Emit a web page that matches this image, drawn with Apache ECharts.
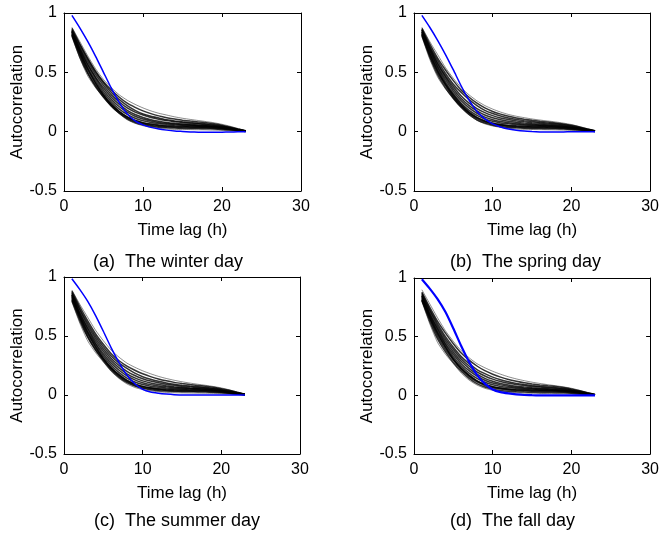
<!DOCTYPE html>
<html>
<head>
<meta charset="utf-8">
<script src="https://cdn.jsdelivr.net/npm/echarts@6/dist/echarts.min.js"></script>
<style>
html, body { margin: 0; padding: 0; background: #fff; }
#main { width: 662px; height: 535px; }
</style>
</head>
<body>
<div id="main"></div>
<script>
// lag in hours
var lags = [1,2,3,4,5,6,7,8,9,10,11,12,13,14,15,16,17,18,19,20,21,22,23];

// blue curve of each season
var blueWinter = [0.98,0.875,0.76,0.635,0.50,0.365,0.245,0.15,0.09,0.057,0.036,0.022,0.013,0.006,0.002,-0.002,-0.004,-0.005,-0.005,-0.004,-0.003,-0.001,0];
var blueSpring = [0.98,0.88,0.77,0.65,0.52,0.385,0.265,0.17,0.108,0.065,0.04,0.022,0.012,0.005,0.001,-0.002,-0.003,-0.003,-0.002,-0.001,0,0,0];
var blueSummer = [0.985,0.895,0.795,0.675,0.54,0.40,0.275,0.17,0.095,0.048,0.025,0.015,0.008,0.003,0.001,0,0,0,0,0,0,0,0];
var blueFall = [0.99,0.91,0.82,0.71,0.57,0.42,0.285,0.175,0.10,0.05,0.027,0.016,0.008,0.003,0.001,0,0,0,0,0,0,0,0];

// black curves
var blackWinter = [
  [0.88,0.76,0.64,0.53,0.44,0.37,0.31,0.265,0.23,0.20,0.175,0.155,0.14,0.125,0.113,0.103,0.094,0.085,0.075,0.062,0.046,0.027,0.008],
  [0.87,0.74,0.62,0.51,0.42,0.35,0.29,0.24,0.205,0.175,0.152,0.133,0.118,0.106,0.097,0.089,0.082,0.075,0.066,0.055,0.04,0.023,0.007],
  [0.86,0.73,0.61,0.50,0.41,0.33,0.27,0.22,0.18,0.15,0.13,0.115,0.10,0.09,0.083,0.077,0.071,0.065,0.058,0.048,0.035,0.02,0.006],
  [0.85,0.71,0.59,0.48,0.39,0.31,0.25,0.20,0.165,0.14,0.12,0.105,0.093,0.084,0.077,0.071,0.066,0.06,0.053,0.044,0.032,0.018,0.005],
  [0.85,0.70,0.57,0.46,0.37,0.29,0.23,0.18,0.145,0.12,0.10,0.087,0.077,0.07,0.065,0.06,0.056,0.052,0.047,0.039,0.029,0.016,0.004],
  [0.84,0.69,0.56,0.45,0.35,0.27,0.21,0.165,0.13,0.107,0.09,0.078,0.07,0.064,0.06,0.056,0.053,0.049,0.044,0.037,0.027,0.015,0.004],
  [0.84,0.68,0.54,0.43,0.33,0.25,0.19,0.145,0.113,0.092,0.078,0.069,0.063,0.058,0.054,0.051,0.048,0.045,0.041,0.034,0.025,0.014,0.004],
  [0.83,0.67,0.53,0.41,0.31,0.23,0.17,0.125,0.095,0.076,0.064,0.057,0.052,0.049,0.047,0.045,0.043,0.041,0.037,0.031,0.023,0.013,0.003],
  [0.82,0.66,0.52,0.41,0.31,0.23,0.17,0.125,0.094,0.074,0.06,0.051,0.046,0.043,0.041,0.04,0.039,0.037,0.034,0.028,0.021,0.012,0.003],
  [0.82,0.65,0.50,0.39,0.30,0.22,0.16,0.115,0.085,0.066,0.053,0.045,0.04,0.037,0.035,0.034,0.033,0.032,0.029,0.024,0.018,0.01,0.002],
  [0.81,0.63,0.49,0.38,0.29,0.215,0.155,0.108,0.077,0.058,0.046,0.038,0.033,0.03,0.028,0.027,0.026,0.025,0.023,0.019,0.014,0.008,0.002],
  [0.80,0.62,0.47,0.37,0.29,0.21,0.15,0.10,0.07,0.05,0.037,0.028,0.022,0.019,0.018,0.017,0.016,0.015,0.013,0.011,0.008,0.004,0.001]
];
var blackSpring = [
  [0.88,0.76,0.65,0.54,0.45,0.37,0.31,0.26,0.22,0.19,0.165,0.145,0.13,0.118,0.107,0.098,0.09,0.082,0.072,0.06,0.044,0.026,0.008],
  [0.87,0.74,0.62,0.52,0.43,0.35,0.29,0.24,0.20,0.17,0.148,0.13,0.116,0.105,0.096,0.088,0.081,0.074,0.065,0.054,0.04,0.023,0.007],
  [0.86,0.72,0.60,0.49,0.40,0.33,0.27,0.22,0.18,0.153,0.132,0.116,0.103,0.093,0.085,0.078,0.072,0.066,0.058,0.048,0.035,0.02,0.006],
  [0.86,0.71,0.58,0.47,0.38,0.30,0.24,0.195,0.16,0.135,0.116,0.102,0.091,0.083,0.076,0.07,0.065,0.059,0.052,0.043,0.031,0.018,0.005],
  [0.85,0.70,0.57,0.46,0.36,0.28,0.22,0.175,0.14,0.117,0.10,0.088,0.079,0.072,0.066,0.061,0.057,0.052,0.046,0.038,0.028,0.016,0.004],
  [0.84,0.69,0.55,0.44,0.34,0.26,0.20,0.155,0.123,0.101,0.086,0.076,0.068,0.063,0.059,0.055,0.052,0.048,0.043,0.036,0.026,0.015,0.004],
  [0.84,0.68,0.54,0.42,0.32,0.24,0.18,0.137,0.107,0.087,0.074,0.066,0.06,0.056,0.053,0.05,0.047,0.044,0.04,0.033,0.024,0.014,0.004],
  [0.83,0.66,0.52,0.40,0.30,0.22,0.16,0.118,0.089,0.071,0.06,0.053,0.049,0.047,0.045,0.043,0.042,0.04,0.036,0.03,0.022,0.012,0.003],
  [0.82,0.66,0.51,0.40,0.31,0.23,0.165,0.12,0.09,0.071,0.058,0.05,0.045,0.042,0.04,0.039,0.038,0.036,0.033,0.027,0.02,0.011,0.003],
  [0.82,0.64,0.50,0.39,0.29,0.215,0.155,0.11,0.081,0.063,0.051,0.044,0.039,0.036,0.034,0.033,0.032,0.031,0.028,0.023,0.017,0.01,0.002],
  [0.81,0.63,0.48,0.37,0.28,0.205,0.145,0.10,0.072,0.054,0.043,0.036,0.032,0.029,0.027,0.026,0.025,0.024,0.022,0.018,0.013,0.007,0.002],
  [0.80,0.61,0.46,0.36,0.28,0.20,0.14,0.095,0.066,0.048,0.036,0.028,0.022,0.019,0.018,0.017,0.016,0.015,0.013,0.011,0.008,0.004,0.001]
];
var blackSummer = [
  [0.89,0.77,0.66,0.55,0.46,0.38,0.32,0.27,0.235,0.205,0.18,0.158,0.14,0.125,0.112,0.101,0.091,0.082,0.072,0.06,0.044,0.026,0.008],
  [0.88,0.75,0.63,0.52,0.43,0.35,0.29,0.245,0.21,0.18,0.156,0.136,0.12,0.107,0.097,0.088,0.081,0.074,0.065,0.054,0.04,0.023,0.007],
  [0.87,0.73,0.61,0.50,0.41,0.33,0.27,0.225,0.185,0.155,0.133,0.116,0.102,0.091,0.083,0.076,0.07,0.064,0.057,0.047,0.034,0.02,0.006],
  [0.86,0.72,0.59,0.48,0.39,0.31,0.25,0.20,0.165,0.138,0.118,0.103,0.091,0.082,0.075,0.069,0.064,0.059,0.052,0.043,0.031,0.018,0.005],
  [0.85,0.70,0.57,0.46,0.37,0.29,0.23,0.18,0.145,0.12,0.102,0.089,0.079,0.071,0.065,0.06,0.056,0.052,0.046,0.038,0.028,0.016,0.004],
  [0.85,0.69,0.56,0.44,0.35,0.27,0.21,0.163,0.128,0.104,0.088,0.077,0.069,0.063,0.059,0.055,0.052,0.048,0.043,0.036,0.026,0.015,0.004],
  [0.84,0.68,0.54,0.43,0.33,0.25,0.19,0.143,0.11,0.089,0.075,0.066,0.06,0.056,0.053,0.05,0.047,0.044,0.04,0.033,0.024,0.014,0.004],
  [0.83,0.67,0.53,0.41,0.31,0.23,0.17,0.123,0.092,0.073,0.061,0.054,0.05,0.047,0.045,0.043,0.042,0.04,0.036,0.03,0.022,0.012,0.003],
  [0.82,0.66,0.52,0.41,0.31,0.23,0.17,0.123,0.092,0.072,0.059,0.05,0.045,0.042,0.04,0.039,0.038,0.036,0.033,0.027,0.02,0.011,0.003],
  [0.81,0.65,0.50,0.39,0.30,0.22,0.16,0.113,0.083,0.064,0.052,0.044,0.039,0.036,0.034,0.033,0.032,0.031,0.028,0.023,0.017,0.01,0.002],
  [0.80,0.63,0.49,0.38,0.29,0.21,0.15,0.105,0.075,0.056,0.045,0.037,0.033,0.03,0.028,0.027,0.026,0.025,0.023,0.019,0.014,0.008,0.002],
  [0.79,0.61,0.46,0.36,0.28,0.20,0.14,0.094,0.064,0.046,0.035,0.027,0.022,0.019,0.018,0.017,0.016,0.015,0.013,0.011,0.008,0.004,0.001]
];
var blackFall = [
  [0.90,0.78,0.66,0.55,0.46,0.38,0.32,0.27,0.235,0.205,0.18,0.158,0.14,0.125,0.112,0.101,0.091,0.082,0.072,0.06,0.044,0.026,0.008],
  [0.88,0.75,0.63,0.53,0.44,0.36,0.30,0.25,0.21,0.18,0.155,0.135,0.12,0.107,0.097,0.089,0.082,0.075,0.066,0.055,0.04,0.023,0.007],
  [0.87,0.73,0.61,0.50,0.41,0.33,0.27,0.22,0.185,0.155,0.133,0.116,0.102,0.092,0.084,0.077,0.071,0.065,0.058,0.048,0.035,0.02,0.006],
  [0.86,0.72,0.59,0.48,0.39,0.31,0.25,0.20,0.165,0.138,0.118,0.103,0.092,0.083,0.076,0.07,0.065,0.06,0.053,0.044,0.032,0.018,0.005],
  [0.85,0.70,0.57,0.46,0.37,0.29,0.23,0.18,0.145,0.12,0.101,0.088,0.078,0.071,0.065,0.06,0.056,0.052,0.047,0.039,0.029,0.016,0.004],
  [0.85,0.69,0.56,0.44,0.35,0.27,0.21,0.164,0.129,0.105,0.089,0.077,0.069,0.063,0.059,0.055,0.052,0.048,0.043,0.036,0.026,0.015,0.004],
  [0.84,0.68,0.54,0.43,0.33,0.25,0.19,0.144,0.111,0.09,0.076,0.067,0.061,0.057,0.053,0.05,0.047,0.044,0.04,0.033,0.024,0.014,0.004],
  [0.83,0.67,0.53,0.41,0.31,0.23,0.17,0.124,0.093,0.074,0.062,0.055,0.051,0.048,0.046,0.044,0.042,0.04,0.036,0.03,0.022,0.012,0.003],
  [0.82,0.66,0.52,0.41,0.31,0.23,0.17,0.124,0.093,0.073,0.06,0.051,0.046,0.043,0.041,0.04,0.039,0.037,0.034,0.028,0.021,0.012,0.003],
  [0.81,0.65,0.50,0.39,0.30,0.22,0.16,0.114,0.084,0.065,0.053,0.045,0.04,0.037,0.035,0.034,0.033,0.032,0.029,0.024,0.018,0.01,0.002],
  [0.81,0.63,0.48,0.37,0.28,0.205,0.145,0.10,0.071,0.053,0.042,0.035,0.031,0.028,0.026,0.025,0.024,0.023,0.021,0.017,0.012,0.007,0.002],
  [0.80,0.61,0.45,0.35,0.27,0.19,0.13,0.088,0.06,0.043,0.032,0.025,0.021,0.018,0.017,0.016,0.015,0.014,0.013,0.011,0.008,0.004,0.001]
];

var captions = ['(a)  The winter day', '(b)  The spring day', '(c)  The summer day', '(d)  The fall day'];
var xMin = 0, xMax = 30, xStep = 10;
var yMin = -0.5, yMax = 1, yStep = 0.5;

var panels = [
  { blue: blueWinter, black: blackWinter, grid: { left: 64, top: 13, width: 237, height: 178 }, cap: [93, 262], blueW: 1.5 },
  { blue: blueSpring, black: blackSpring, grid: { left: 414, top: 13, width: 238, height: 178 }, cap: [450, 262], blueW: 1.5 },
  { blue: blueSummer, black: blackSummer, grid: { left: 64, top: 277, width: 236, height: 177 }, cap: [94, 521], blueW: 1.5 },
  { blue: blueFall, black: blackFall, grid: { left: 414, top: 278, width: 238, height: 176 }, cap: [450, 521], blueW: 2.2 }
];

var FONT = 'Liberation Sans, Arial, Helvetica, sans-serif';
var grids = [], xAxes = [], yAxes = [], series = [], graphics = [];

function pairs(vals) {
  var out = [];
  for (var i = 0; i < lags.length; i++) out.push([lags[i], vals[i]]);
  return out;
}

for (var p = 0; p < panels.length; p++) {
  var pn = panels[p];
  grids.push({ left: pn.grid.left, top: pn.grid.top, width: pn.grid.width, height: pn.grid.height, containLabel: false });
  var lineSt = { show: true, onZero: false, lineStyle: { color: '#000', width: 1 } };
  var tickSt = { show: true, inside: true, length: 4, lineStyle: { color: '#000', width: 1 } };
  // bottom and top
  xAxes.push({
    gridIndex: p, type: 'value', position: 'bottom', min: xMin, max: xMax, interval: xStep,
    axisLine: lineSt, axisTick: tickSt, splitLine: { show: false },
    axisLabel: { color: '#000', fontSize: 16, fontFamily: FONT, margin: 8 },
    name: 'Time lag (h)', nameLocation: 'middle', nameGap: 31,
    nameTextStyle: { color: '#000', fontSize: 17, fontFamily: FONT }
  });
  xAxes.push({
    gridIndex: p, type: 'value', position: 'top', min: xMin, max: xMax, interval: xStep,
    axisLine: lineSt, axisTick: tickSt, splitLine: { show: false }, axisLabel: { show: false }
  });
  yAxes.push({
    gridIndex: p, type: 'value', position: 'left', min: yMin, max: yMax, interval: yStep,
    axisLine: lineSt, axisTick: tickSt, splitLine: { show: false },
    axisLabel: { color: '#000', fontSize: 16, fontFamily: FONT, margin: 7 },
    name: 'Autocorrelation', nameLocation: 'middle', nameGap: 37,
    nameTextStyle: { color: '#000', fontSize: 17, fontFamily: FONT }
  });
  yAxes.push({
    gridIndex: p, type: 'value', position: 'right', min: yMin, max: yMax, interval: yStep,
    axisLine: lineSt, axisTick: tickSt, splitLine: { show: false }, axisLabel: { show: false }
  });
  for (var k = 0; k < pn.black.length; k++) {
    var edge = (k === 0 || k === pn.black.length - 1);
    series.push({
      type: 'line', xAxisIndex: 2 * p, yAxisIndex: 2 * p, data: pairs(pn.black[k]),
      showSymbol: false, symbol: 'none', smooth: 0.2, silent: true,
      lineStyle: edge ? { color: 'rgba(0,0,0,0.45)', width: 1 } : { color: 'rgba(0,0,0,0.8)', width: 1.5 }
    });
  }
  series.push({
    type: 'line', xAxisIndex: 2 * p, yAxisIndex: 2 * p, data: pairs(pn.blue),
    showSymbol: false, symbol: 'none', smooth: 0.2, silent: true, z: 5,
    lineStyle: { color: '#0000ff', width: pn.blueW }
  });
  graphics.push({
    type: 'text', x: pn.cap[0], y: pn.cap[1],
    style: { text: captions[p], fill: '#000', font: '18px ' + FONT, align: 'left', verticalAlign: 'middle' }
  });
}

var chart = echarts.init(document.getElementById('main'), null, { renderer: 'canvas' });
chart.setOption({
  backgroundColor: '#fff',
  animation: false,
  grid: grids,
  xAxis: xAxes,
  yAxis: yAxes,
  series: series,
  graphic: graphics
});
</script>
</body>
</html>
